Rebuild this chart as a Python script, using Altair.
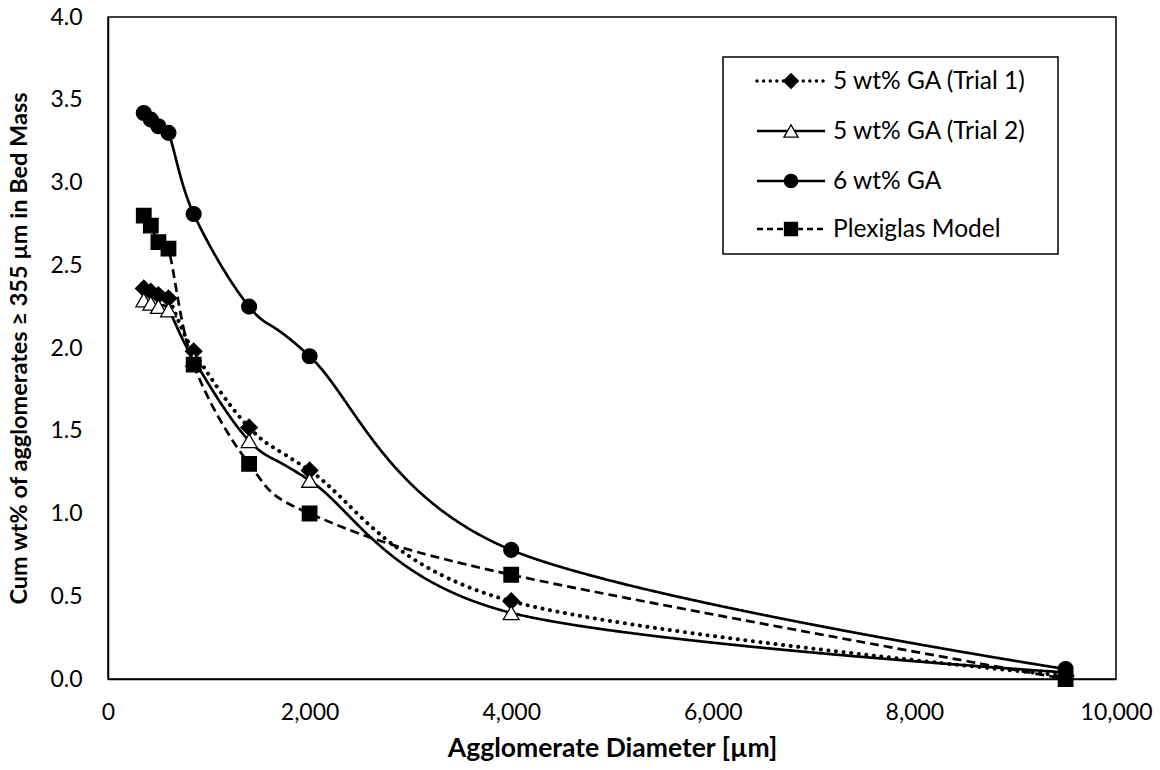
import altair as alt
import pandas as pd

# ---- data ----
diameters = [355, 425, 500, 600, 850, 1400, 2000, 4000, 9500]
series_names = ["5 wt% GA (Trial 1)", "5 wt% GA (Trial 2)", "6 wt% GA", "Plexiglas Model"]
trial1 = [2.36, 2.34, 2.32, 2.30, 1.98, 1.52, 1.26, 0.47, 0.02]
trial2 = [2.29, 2.27, 2.25, 2.23, 1.93, 1.44, 1.20, 0.40, 0.04]
ga6 = [3.42, 3.38, 3.34, 3.30, 2.81, 2.25, 1.95, 0.78, 0.06]
plexi = [2.80, 2.74, 2.64, 2.60, 1.90, 1.30, 1.00, 0.63, 0.00]
x_ticks = [0, 2000, 4000, 6000, 8000, 10000]
y_ticks = [0.0, 0.5, 1.0, 1.5, 2.0, 2.5, 3.0, 3.5, 4.0]

values = [trial1, trial2, ga6, plexi]
rows = []
for name, vals in zip(series_names, values):
    for d, v in zip(diameters, vals):
        rows.append({"series": name, "diameter": d, "value": v})
df = pd.DataFrame(rows)

FONT = "Lato"
W, H = 1008, 662

styles = {
    "5 wt% GA (Trial 1)": dict(dash=[0.1, 7.5], cap="round", lw=4.0, shape="diamond", size=270, fill="black"),
    "5 wt% GA (Trial 2)": dict(dash=[1, 0], cap="butt", lw=2.7, shape="triangle-up", size=250, fill="white"),
    "6 wt% GA": dict(dash=[1, 0], cap="butt", lw=2.7, shape="circle", size=220, fill="black"),
    "Plexiglas Model": dict(dash=[9, 5], cap="butt", lw=2.7, shape="square", size=210, fill="black"),
}

xscale = alt.Scale(domain=[0, 10000], nice=False)
yscale = alt.Scale(domain=[0, 4], nice=False)
xenc = alt.X("diameter:Q", scale=xscale,
             axis=alt.Axis(values=x_ticks, format=",d", title="Agglomerate Diameter [µm]",
                           labelFlush=False, titleFontSize=26.5))
yenc = alt.Y("value:Q", scale=yscale,
             axis=alt.Axis(values=y_ticks, format=".1f", labelFlush=False, titleFontSize=23.5,
                           title="Cum wt% of agglomerates ≥ 355 µm in Bed Mass"))

base = alt.Chart(df)
layers = []
for name in series_names:
    st = styles[name]
    sub = base.transform_filter(alt.datum.series == name)
    line = sub.mark_line(interpolate="cardinal", tension=0, color="black",
                         strokeWidth=st["lw"], strokeDash=st["dash"], strokeCap=st["cap"]).encode(x=xenc, y=yenc)
    pts = sub.mark_point(shape=st["shape"], size=st["size"], filled=True, fill=st["fill"],
                         stroke="black", strokeWidth=1.3, opacity=1).encode(x=xenc, y=yenc)
    layers += [line, pts]

# ---- legend (drawn manually to mimic the line+marker samples) ----
box = alt.Chart(pd.DataFrame({"k": [0]})).mark_rect(fill="white", stroke="black", strokeWidth=1.5).encode(
    x=alt.value(615), x2=alt.value(950), y=alt.value(40), y2=alt.value(237))
layers.append(box)
leg_y = [64, 114, 164, 212]
for name, ly in zip(series_names, leg_y):
    st = styles[name]
    ldf = pd.DataFrame({"label": [name]})
    lc = alt.Chart(ldf)
    if st["cap"] == "round":
        ldash, lw = [0.1, 6.5], 3.4
    elif name == "Plexiglas Model":
        ldash, lw = [6, 4], 2.4
    else:
        ldash, lw = [1, 0], 2.4
    layers.append(lc.mark_rule(color="black", strokeWidth=lw, strokeDash=ldash, strokeCap=st["cap"]).encode(
        x=alt.value(649), x2=alt.value(717), y=alt.value(ly)))
    layers.append(lc.mark_point(shape=st["shape"], size=st["size"] * 0.8, filled=True, fill=st["fill"],
                                stroke="black", strokeWidth=1.3, opacity=1).encode(
        x=alt.value(683), y=alt.value(ly)))
    layers.append(lc.mark_text(align="left", baseline="middle", font=FONT, fontSize=24.5, color="black").encode(
        x=alt.value(725), y=alt.value(ly + 1), text="label:N"))

chart = alt.layer(*layers).properties(
    width=W, height=H,
    autosize=alt.AutoSizeParams(type="none"),
    padding={"left": 108, "top": 17, "right": 44, "bottom": 91},
).configure_view(stroke="black", strokeWidth=1.5).configure_axis(
    grid=False, ticks=False, domain=True, domainColor="black", domainWidth=1.5,
    labelFont=FONT, labelFontSize=23, labelColor="black",
    titleFont=FONT, titleFontWeight="bold", titleColor="black",
).configure_axisX(labelPadding=22, titlePadding=11).configure_axisY(labelPadding=26, titlePadding=18)

chart.save("out.html", embed_options={"renderer": "svg", "actions": False})
